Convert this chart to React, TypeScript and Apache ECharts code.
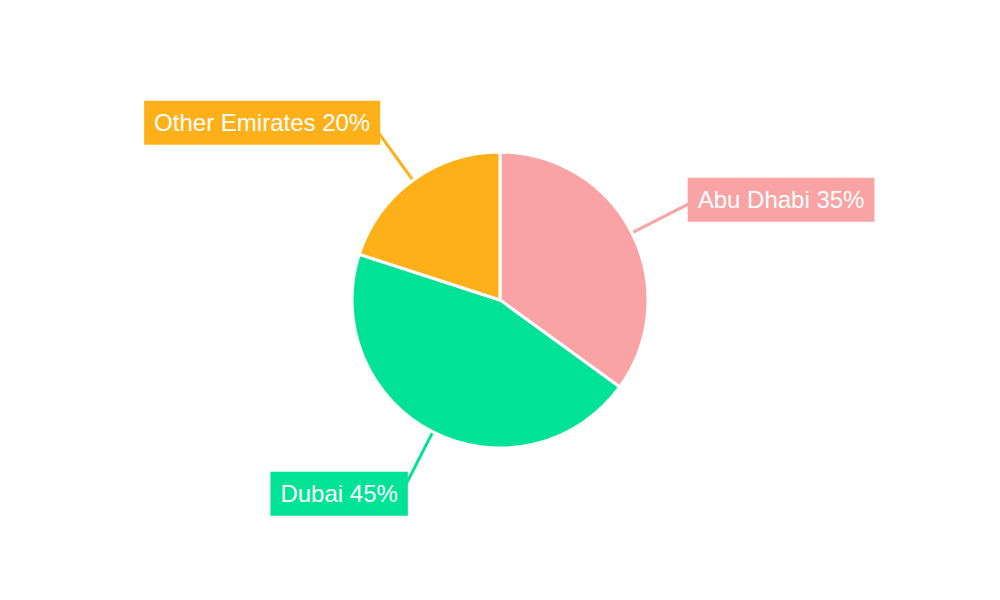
import React, { useEffect, useRef } from "react";
import * as echarts from "echarts";

const categories = ["Abu Dhabi", "Dubai", "Other Emirates"];
const values = [35, 45, 20];
const colors = ["#F9A3A4", "#00E396", "#FEB019"];
const labelShiftX = [-3, 5, 6];
const labelShiftY = [-3, 3, -4];

export default function App() {
  const ref = useRef<HTMLDivElement>(null);
  useEffect(() => {
    const chart = echarts.init(ref.current!, undefined, { renderer: "svg" });
    chart.setOption({
      animation: false,
      backgroundColor: "#ffffff",
      series: [
        {
          type: "pie",
          center: [500, 300],
          radius: 148,
          startAngle: 90,
          clockwise: true,
          avoidLabelOverlap: false,
          data: categories.map((name, i) => ({
            name,
            value: values[i],
            itemStyle: { color: colors[i] },
            label: { backgroundColor: colors[i] },
          })),
          itemStyle: { borderColor: "#ffffff", borderWidth: 3 },
          label: {
            show: true,
            position: "outside",
            formatter: "{b} {d}%",
            color: "#ffffff",
            fontSize: 24,
            fontFamily: "Liberation Sans, Arial, sans-serif",
            padding: [10, 10, 10, 10],
            lineHeight: 24,
            distanceToLabelLine: 0,
          },
          labelLayout: (p: any) => ({
            dx: labelShiftX[p.dataIndex],
            dy: labelShiftY[p.dataIndex],
          }),
          labelLine: {
            show: true,
            length: 66,
            length2: 0,
            smooth: false,
            lineStyle: { width: 3 },
          },
        },
      ],
    });
    return () => chart.dispose();
  }, []);
  return <div ref={ref} style={{ width: 1000, height: 600, position: "absolute", left: 0, top: 0 }} />;
}
